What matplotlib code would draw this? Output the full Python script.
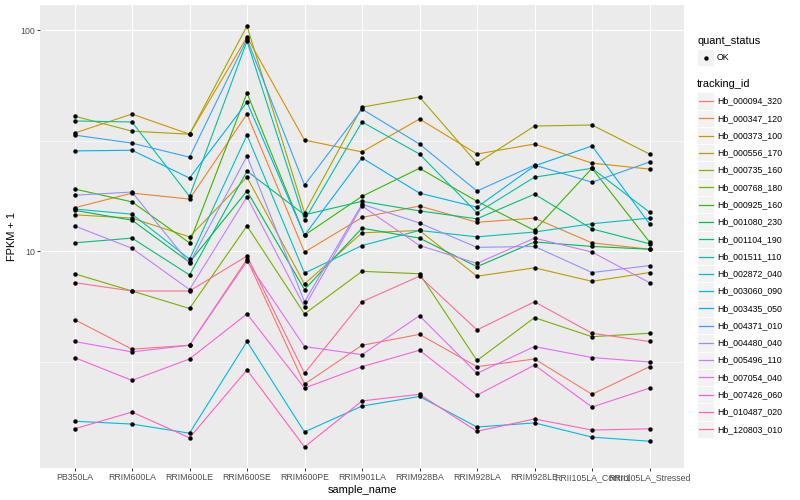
import matplotlib
matplotlib.use("Agg")
import matplotlib.pyplot as plt
from matplotlib.patches import Rectangle
from matplotlib.ticker import FixedLocator, NullFormatter
import numpy as np

plt.rcParams['font.family'] = ['Liberation Sans', 'DejaVu Sans']

samples = ["PB350LA", "RRIM600LA", "RRIM600LE", "RRIM600SE", "RRIM600PE", "RRIM901LA",
           "RRIM928BA", "RRIM928LA", "RRIM928LE", "RRII105LA_Control", "RRII105LA_Stressed"]

tracking_ids = ["Hb_000094_320", "Hb_000347_120", "Hb_000373_100", "Hb_000556_170",
                "Hb_000735_160", "Hb_000768_180", "Hb_000925_160", "Hb_001080_230",
                "Hb_001104_190", "Hb_001511_110", "Hb_002872_040", "Hb_003060_090",
                "Hb_003435_050", "Hb_004371_010", "Hb_004480_040", "Hb_005496_110",
                "Hb_007054_040", "Hb_007426_060", "Hb_010487_020", "Hb_120803_010"]

# FPKM + 1 per sample
hb_000094_320 = [4.9, 3.6, 3.75, 9.2, 2.5, 3.75, 4.2, 3.0, 3.25, 2.25, 3.0]
hb_000347_120 = [15.7, 18.3, 17.2, 41.7, 9.9, 14.2, 16.0, 13.5, 14.1, 10.9, 10.2]
hb_000373_100 = [34.2, 41.7, 33.8, 93.0, 31.8, 28.1, 39.6, 27.5, 30.5, 25.0, 23.5]
hb_000556_170 = [14.6, 14.1, 11.6, 21.6, 7.1, 12.1, 12.4, 7.7, 8.4, 7.3, 8.0]
hb_000735_160 = [40.8, 34.9, 33.8, 104.3, 14.9, 44.8, 49.8, 25.0, 36.8, 37.2, 27.5]
hb_000768_180 = [7.9, 6.6, 5.5, 13.0, 5.2, 8.1, 7.9, 3.2, 5.0, 4.1, 4.25]
hb_000925_160 = [19.1, 16.7, 10.9, 51.9, 11.8, 17.7, 23.7, 16.8, 12.4, 23.7, 11.0]
hb_001080_230 = [15.3, 13.8, 8.9, 18.7, 6.7, 12.7, 11.45, 8.5, 11.0, 10.5, 10.2]
hb_001104_190 = [10.9, 11.45, 7.8, 23.0, 14.6, 16.8, 15.2, 14.0, 18.1, 12.6, 10.8]
hb_001511_110 = [38.8, 38.4, 17.7, 89.2, 13.8, 38.4, 27.5, 14.9, 21.6, 23.7, 15.0]
hb_002872_040 = [15.5, 14.7, 9.2, 33.5, 7.95, 10.6, 12.4, 11.6, 12.2, 13.3, 14.1]
hb_003060_090 = [1.70, 1.65, 1.50, 3.9, 1.52, 1.99, 2.2, 1.60, 1.67, 1.44, 1.38]
hb_003435_050 = [28.4, 28.6, 21.4, 47.2, 11.8, 26.4, 18.3, 15.8, 24.3, 29.9, 13.3]
hb_004371_010 = [33.5, 30.8, 26.6, 91.1, 19.9, 43.9, 30.5, 18.7, 24.5, 20.5, 25.3]
hb_004480_040 = [17.9, 18.5, 8.8, 26.9, 5.9, 16.3, 13.4, 10.4, 10.5, 8.0, 8.6]
hb_005496_110 = [13.0, 10.3, 6.7, 17.6, 5.6, 16.0, 10.6, 8.8, 11.45, 9.9, 7.2]
hb_007054_040 = [3.9, 3.5, 3.75, 9.0, 3.7, 3.4, 5.1, 2.8, 3.7, 3.3, 3.15]
hb_007426_060 = [3.3, 2.6, 3.25, 5.2, 2.4, 3.0, 3.56, 2.23, 3.05, 1.97, 2.4]
hb_010487_020 = [1.57, 1.87, 1.43, 2.9, 1.30, 2.1, 2.25, 1.53, 1.74, 1.55, 1.57]
hb_120803_010 = [7.2, 6.6, 6.6, 9.5, 2.8, 5.9, 7.7, 4.4, 5.9, 4.25, 3.9]

series = [hb_000094_320, hb_000347_120, hb_000373_100, hb_000556_170, hb_000735_160,
          hb_000768_180, hb_000925_160, hb_001080_230, hb_001104_190, hb_001511_110,
          hb_002872_040, hb_003060_090, hb_003435_050, hb_004371_010, hb_004480_040,
          hb_005496_110, hb_007054_040, hb_007426_060, hb_010487_020, hb_120803_010]

# ggplot default hue palette for 20 levels
colors = ["#F8766D", "#EA8331", "#D89000", "#C09B00", "#A3A500", "#7CAE00", "#39B600",
          "#00BB4E", "#00BF7D", "#00C1A3", "#00BFC4", "#00BAE0", "#00B0F6", "#35A2FF",
          "#9590FF", "#C77CFF", "#E76BF3", "#FA62DB", "#FF62BC", "#FF6C91"]

fig = plt.figure(figsize=(8, 5), dpi=100)
ax = fig.add_axes([40 / 800, 1 - 468 / 500, (684 - 40) / 800, (468 - 5) / 500])
ax.set_facecolor('#EBEBEB')

x = np.arange(1, len(samples) + 1)
for vals, col in zip(series, colors):
    ax.plot(x, vals, color=col, lw=0.8, zorder=3)
for vals in series:
    ax.plot(x, vals, ls='none', marker='o', ms=3.2, mec='none', color='black', zorder=4)

ax.set_yscale('log')
lo = np.log10(min(min(s) for s in series))
hi = np.log10(max(max(s) for s in series))
pad = 0.05 * (hi - lo)
ax.set_ylim(10 ** (lo - pad), 10 ** (hi + pad))
ax.set_xlim(0.4, len(samples) + 0.6)

ax.set_yticks([10, 100])
ax.set_yticklabels(["10", "100"])
ax.yaxis.set_minor_locator(FixedLocator([10 ** 0.5, 10 ** 1.5]))
ax.yaxis.set_minor_formatter(NullFormatter())
ax.set_xticks(x)
ax.set_xticklabels(samples)

ax.grid(which='major', color='white', lw=0.8, zorder=0)
ax.grid(which='minor', axis='y', color='white', lw=0.4, zorder=0)
ax.set_axisbelow(True)
for sp in ax.spines.values():
    sp.set_visible(False)
ax.tick_params(which='major', length=2.0, width=0.7, color='#333333',
               labelsize=6.3, labelcolor='#4D4D4D', pad=1.6)
ax.tick_params(which='minor', length=0)

ax.set_xlabel("sample_name", fontsize=7.9, labelpad=2)
ax.set_ylabel("FPKM + 1", fontsize=7.9, labelpad=2)

# legends drawn in pixel coordinates
lax = fig.add_axes([0, 0, 1, 1])
lax.set_xlim(0, 800)
lax.set_ylim(500, 0)
lax.axis('off')

key = 17.28
lax.text(697, 41, "quant_status", fontsize=7.9, va='center', ha='left')
lax.add_patch(Rectangle((697, 57.5 - key / 2), key, key, fc='#F2F2F2', ec='white', lw=0.5))
lax.plot([697 + key / 2], [57.5], marker='o', ms=3.2, mec='none', color='black')
lax.text(717, 57.5, "OK", fontsize=6.3, va='center', ha='left')

lax.text(697, 84, "tracking_id", fontsize=7.9, va='center', ha='left')
for i, (tid, col) in enumerate(zip(tracking_ids, colors)):
    cy = 101 + key * i
    lax.add_patch(Rectangle((697, cy - key / 2), key, key, fc='#F2F2F2', ec='white', lw=0.5))
    lax.plot([698.7, 712.6], [cy, cy], color=col, lw=0.9)
    lax.text(717, cy, tid, fontsize=6.3, va='center', ha='left')

fig.savefig("out.png", dpi=100)
